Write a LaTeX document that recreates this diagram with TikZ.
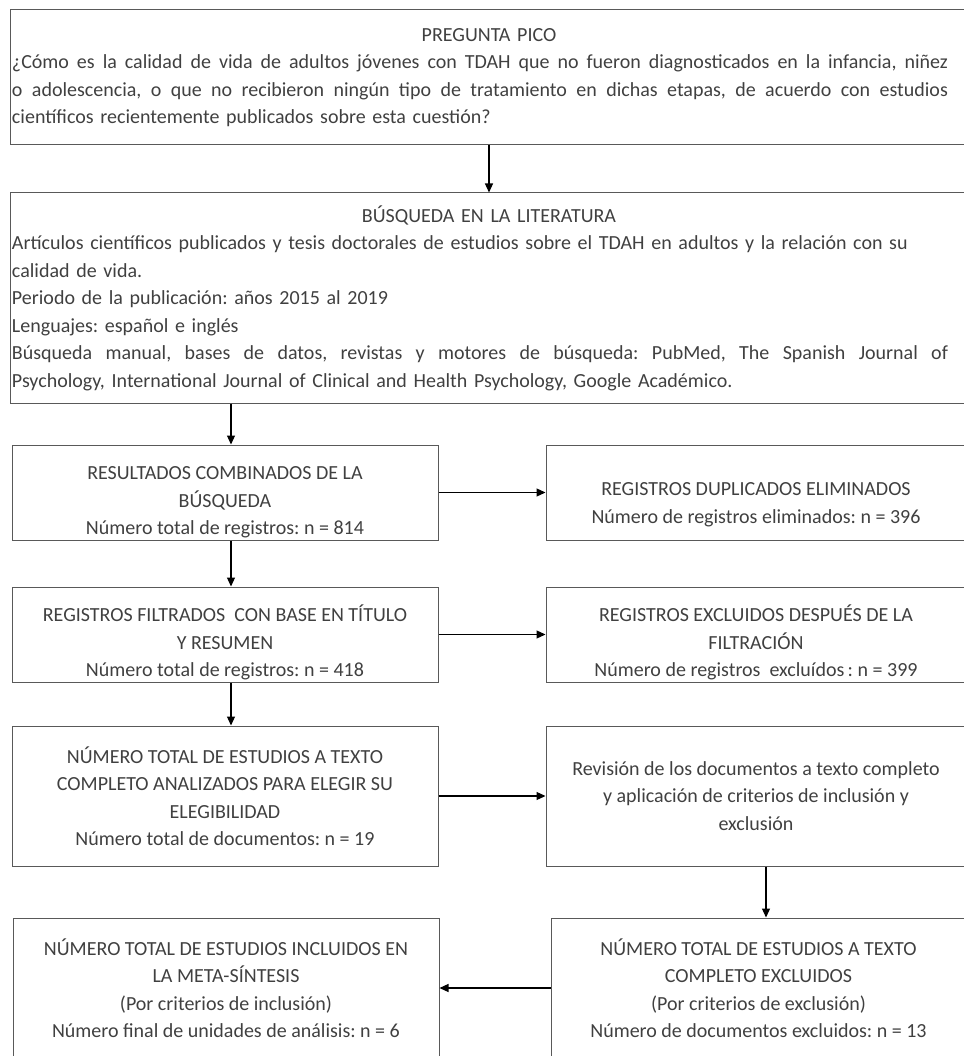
\documentclass[tikz,border=0pt]{standalone}
\usepackage{fontspec}
\setmainfont{Carlito}
\frenchspacing
\usetikzlibrary{arrows.meta}
\definecolor{txtgray}{HTML}{404040}
\definecolor{boxgray}{HTML}{595959}
\newcommand{\jline}[1]{{\spaceskip=.22em plus 1fil\relax\leavevmode\hbox to 936pt{#1}}}
\newcommand{\ctitle}[1]{\makebox[\linewidth][c]{#1}}
\begin{document}
\begin{tikzpicture}[x=1pt,y=-1pt,
  box/.style={draw=boxgray,line width=1pt,text=txtgray,inner sep=0pt,align=center,
    font=\fontsize{20}{27.5}\selectfont},
  wide/.style={box,align=left,text width=954pt,inner xsep=2pt},
  low/.style={text depth=0pt,text height=#1},
  arr/.style={-{Triangle[length=9pt,width=8pt]},line width=1.2pt}]
\useasboundingbox (0,0) rectangle (963,1056);
\node[wide,minimum height=135pt] (pico) at (489,77.5) {\ctitle{PREGUNTA PICO}\\
\jline{¿Cómo es la calidad de vida de adultos jóvenes con TDAH que no fueron diagnosticados en la infancia, niñez}\\
\jline{o adolescencia, o que no recibieron ningún tipo de tratamiento en dichas etapas, de acuerdo con estudios}\\
científicos recientemente publicados sobre esta cuestión?};
\node[wide,minimum height=210pt] (busq) at (489,298) {\ctitle{BÚSQUEDA EN LA LITERATURA}\\
\mbox{Artículos científicos publicados y tesis doctorales de estudios sobre el TDAH en adultos y la relación con su}\\
calidad de vida.\\
Periodo de la publicación: años 2015 al 2019\\
Lenguajes: español e inglés\\
\jline{Búsqueda manual, bases de datos, revistas y motores de búsqueda: PubMed, The Spanish Journal of}\\
Psychology, International Journal of Clinical and Health Psychology, Google Académico.};
\node[box,low=84pt,minimum width=426pt,minimum height=95pt] (res) at (225,492.5) {RESULTADOS COMBINADOS DE LA\\ BÚSQUEDA\\ Número total de registros: n = 814};
\node[box,low=61pt,minimum width=420pt,minimum height=95pt] (dup) at (756,492.5) {REGISTROS DUPLICADOS ELIMINADOS\\ Número de registros eliminados: n = 396};
\node[box,low=84pt,minimum width=426pt,minimum height=95pt] (filt) at (225,634.5) {REGISTROS FILTRADOS\ \ CON BASE EN TÍTULO\\ Y RESUMEN\\ Número total de registros: n = 418};
\node[box,low=84pt,minimum width=420pt,minimum height=95pt] (excl) at (756,634.5) {REGISTROS EXCLUIDOS DESPUÉS DE LA\\ FILTRACIÓN\\ Número de registros\ \ excluídos\,: n = 399};
\node[box,minimum width=426pt,minimum height=140pt] (tot) at (225,796) {NÚMERO TOTAL DE ESTUDIOS A TEXTO\\ COMPLETO ANALIZADOS PARA ELEGIR SU\\ ELEGIBILIDAD\\ Número total de documentos: n = 19};
\node[box,minimum width=420pt,minimum height=140pt] (rev) at (756,796) {Revisión de los documentos a texto completo\\ y aplicación de criterios de inclusión y\\ exclusión};
\node[box,minimum width=426pt,minimum height=140pt] (inc) at (226,988) {NÚMERO TOTAL DE ESTUDIOS INCLUIDOS EN\\ LA META-SÍNTESIS\\ (Por criterios de inclusión)\\ Número final de unidades de análisis: n = 6};
\node[box,minimum width=415pt,minimum height=140pt] (exc) at (758.5,988) {NÚMERO TOTAL DE ESTUDIOS A TEXTO\\ COMPLETO EXCLUIDOS\\ (Por criterios de exclusión)\\ Número de documentos excluidos: n = 13};
\draw[arr] (pico) -- (busq);
\draw[arr] ([xshift=6pt]res.north |- busq.south) -- ([xshift=6pt]res.north);
\draw[arr] (res) -- (dup);
\draw[arr] ([xshift=6pt]res.south) -- ([xshift=6pt]filt.north);
\draw[arr] (filt) -- (excl);
\draw[arr] ([xshift=6pt]filt.south) -- ([xshift=6pt]tot.north);
\draw[arr] (tot) -- (rev);
\draw[arr] ([xshift=10pt]rev.south) -- ([xshift=10pt]rev.south |- exc.north);
\draw[arr] (exc) -- (inc);
\end{tikzpicture}
\end{document}
